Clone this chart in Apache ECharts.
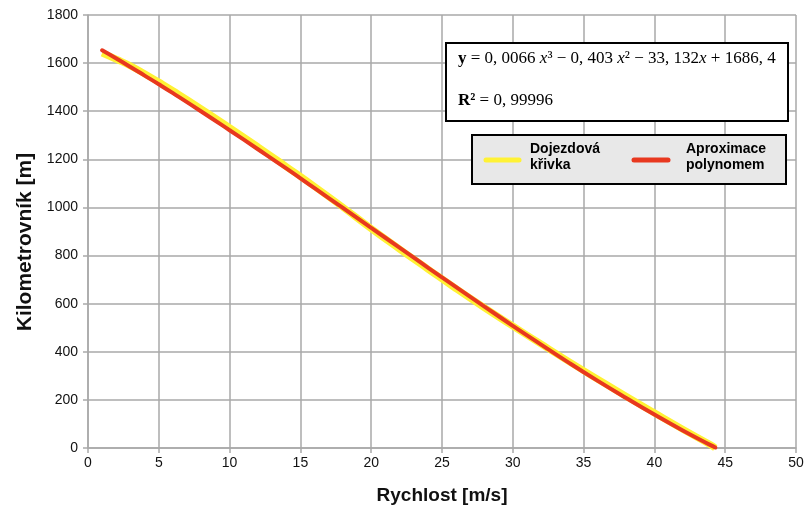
<!DOCTYPE html>
<html>
<head>
<meta charset="utf-8">
<script src="https://cdn.jsdelivr.net/npm/echarts@6/dist/echarts.min.js"></script>
<style>
  html, body { margin: 0; padding: 0; background: #ffffff; }
  #chart { width: 808px; height: 511px; }
</style>
</head>
<body>
<div id="chart"></div>
<script>
// Speeds [m/s] and the measured coast-down positions [m]
const speed = [1, 2, 3, 4, 5, 6, 8, 10, 12, 14, 16, 18, 20, 22, 24, 26, 28, 30, 32, 34, 36, 38, 40, 42, 44, 44.3];
const coastDown = [1642, 1616, 1589, 1556, 1521, 1485, 1410, 1332, 1252, 1170, 1087, 1001, 912, 827, 744, 662, 583, 507, 432, 358, 286, 215, 146, 78, 12, 0];
// Cubic polynomial fit, sampled at the same speeds
const polyFit = [1653, 1619, 1584, 1548, 1512, 1475, 1399, 1321, 1242, 1162, 1080, 998, 915, 833, 750, 669, 588, 508, 430, 353, 279, 208, 139, 73, 11, 2];

const seriesNames = ['Dojezdová křivka', 'Aproximace polynomem'];
const legendLabels = ['Dojezdová\nkřivka', 'Aproximace\npolynomem'];
const xTitle = 'Rychlost [m/s]';
const yTitle = 'Kilometrovník [m]';
const xTicks = { min: 0, max: 50, interval: 5 };
const yTicks = { min: 0, max: 1800, interval: 200 };

const YELLOW = '#fff235';
const RED = '#e8381f';
const GRID = '#a9a9a9';

const chart = echarts.init(document.getElementById('chart'), null, { renderer: 'canvas' });

const serif = '"Liberation Serif", "DejaVu Serif", serif';

chart.setOption({
  backgroundColor: '#ffffff',
  animation: false,
  grid: { left: 88, right: 12, top: 15, bottom: 63 },
  xAxis: {
    type: 'value',
    min: xTicks.min, max: xTicks.max, interval: xTicks.interval,
    name: xTitle,
    nameLocation: 'middle',
    nameGap: 38,
    nameTextStyle: { fontFamily: 'Liberation Sans', fontWeight: 'bold', fontSize: 19, color: '#111' },
    axisLine: { show: true, lineStyle: { color: GRID, width: 1.5 } },
    axisTick: { show: true, length: 5, lineStyle: { color: GRID, width: 1.5 } },
    axisLabel: { margin: 8, fontFamily: 'Liberation Sans', fontSize: 14, color: '#111' },
    splitLine: { show: true, lineStyle: { color: GRID, width: 1.5 } }
  },
  yAxis: {
    type: 'value',
    min: yTicks.min, max: yTicks.max, interval: yTicks.interval,
    axisLine: { show: true, lineStyle: { color: GRID, width: 1.5 } },
    axisTick: { show: true, length: 5, lineStyle: { color: GRID, width: 1.5 } },
    axisLabel: {
      margin: 10, fontFamily: 'Liberation Sans', fontSize: 14, color: '#111',
      formatter: (v) => String(v)
    },
    splitLine: { show: true, lineStyle: { color: GRID, width: 1.5 } }
  },
  legend: { show: false },
  series: [
    {
      name: seriesNames[0],
      type: 'line',
      smooth: true,
      showSymbol: false,
      data: speed.map((v, i) => [v, coastDown[i]]),
      lineStyle: { color: YELLOW, width: 7, cap: 'butt' },
      itemStyle: { color: YELLOW },
      z: 2
    },
    {
      name: seriesNames[1],
      type: 'line',
      smooth: true,
      showSymbol: false,
      data: speed.map((v, i) => [v, polyFit[i]]),
      lineStyle: { color: RED, width: 4, cap: 'round' },
      itemStyle: { color: RED },
      z: 3
    }
  ],
  graphic: [
    // vertical axis title
    {
      type: 'text',
      x: 25, y: 242,
      rotation: Math.PI / 2,
      z: 11,
      style: {
        text: yTitle,
        font: 'bold 21px "Liberation Sans", Arial, sans-serif',
        fill: '#111',
        align: 'center',
        verticalAlign: 'middle'
      }
    },
    // equation box
    {
      type: 'rect',
      shape: { x: 446, y: 43, width: 342, height: 78 },
      style: { fill: '#ffffff', stroke: '#000', lineWidth: 2 },
      z: 10
    },
    {
      type: 'text',
      left: 458, top: 50,
      z: 11,
      style: {
        text: '{b|y} = 0, 0066 {i|x}³ − 0, 403 {i|x}² − 33, 132{i|x} + 1686, 4',
        font: '17px ' + serif,
        fill: '#000',
        rich: {
          b: { fontFamily: serif, fontSize: 17, fontWeight: 'bold' },
          i: { fontFamily: serif, fontSize: 17, fontStyle: 'italic' }
        }
      }
    },
    {
      type: 'text',
      left: 458, top: 92,
      z: 11,
      style: {
        text: '{b|R²} = 0, 99996',
        font: '17px ' + serif,
        fill: '#000',
        rich: {
          b: { fontFamily: serif, fontSize: 17, fontWeight: 'bold' }
        }
      }
    },
    // legend box
    {
      type: 'rect',
      shape: { x: 472, y: 135, width: 314, height: 49 },
      style: { fill: '#e8e8e8', stroke: '#000', lineWidth: 2 },
      z: 10
    },
    {
      type: 'line',
      shape: { x1: 486, y1: 160, x2: 519, y2: 160 },
      style: { stroke: YELLOW, lineWidth: 5, lineCap: 'round' },
      z: 11
    },
    {
      type: 'text',
      left: 530, top: 141,
      z: 11,
      style: {
        text: legendLabels[0],
        font: 'bold 14px "Liberation Sans", Arial, sans-serif',
        lineHeight: 16,
        fill: '#000'
      }
    },
    {
      type: 'line',
      shape: { x1: 634, y1: 160, x2: 668, y2: 160 },
      style: { stroke: RED, lineWidth: 5, lineCap: 'round' },
      z: 11
    },
    {
      type: 'text',
      left: 686, top: 141,
      z: 11,
      style: {
        text: legendLabels[1],
        font: 'bold 14px "Liberation Sans", Arial, sans-serif',
        lineHeight: 16,
        fill: '#000'
      }
    }
  ]
});
</script>
</body>
</html>
